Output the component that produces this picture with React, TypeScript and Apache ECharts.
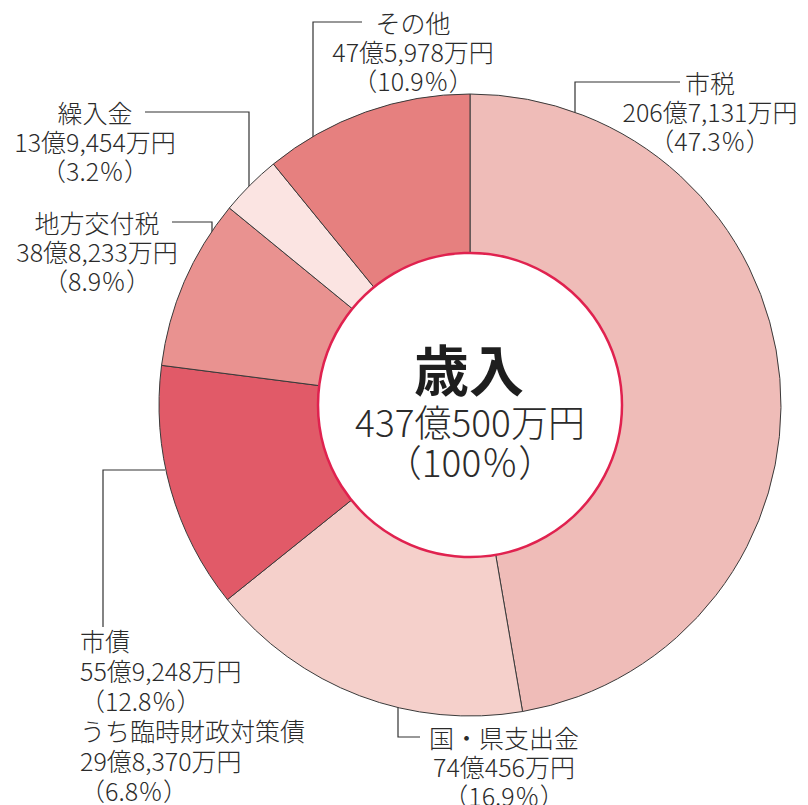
import React, { useEffect, useRef } from 'react';
import * as echarts from 'echarts';

// ---- data (amounts in 万円) ----
const categories: string[] = ['市税', '国・県支出金', '市債', '地方交付税', '繰入金', 'その他'];
const amounts: number[] = [2067131, 740456, 559248, 388233, 139454, 475978];
const subLabel = 'うち臨時財政対策債';
const subAmount = 298370; // part of 市債
const centerTitle = '歳入';

// ---- styles ----
const sliceColors = ['#efbcb8', '#f5d0cb', '#e15a68', '#e99290', '#fbe4e2', '#e6807f'];
const FONT = '"Noto Sans CJK JP", "Noto Sans", sans-serif';
const TEXT = '#2b2b2b';
const CX = 470;
const CY = 405;
const R_IN = 152;
const R_OUT = 311;

// label anchors & leader lines (annotation layout)
const labelLayouts = [
  { x: 710, y: 67.5, align: 'center', pts: [[575, 152], [575, 82], [680, 82]] },
  { x: 504, y: 722.5, align: 'center', pts: [[398, 640], [398, 737], [420, 737]] },
  { x: 80, y: 625, align: 'left', pts: [[165, 470], [103, 470], [103, 627]] },
  { x: 97, y: 207.5, align: 'center', pts: [[212, 312], [212, 222], [172, 222]] },
  { x: 95, y: 97.5, align: 'center', pts: [[249, 200], [249, 112], [145, 112]] },
  { x: 413, y: 7.5, align: 'center', pts: [[313, 155], [313, 22], [362, 22]] },
];

const total = amounts.reduce((a, b) => a + b, 0);
const fmtYen = (v: number) => {
  const oku = Math.floor(v / 10000);
  const man = v % 10000;
  return `${oku}億${man.toLocaleString('en-US')}万円`;
};
const fmtPct = (v: number) => {
  const p = (v / total) * 100;
  return `（${Math.abs(p - 100) < 1e-9 ? '100' : p.toFixed(1)}％）`;
};

export default function App() {
  const ref = useRef<HTMLDivElement>(null);
  useEffect(() => {
    if (!ref.current) return;
    const chart = echarts.init(ref.current, undefined, { renderer: 'svg' });
    const data = categories.map((name, i) => ({
      name,
      value: amounts[i],
      itemStyle: { color: sliceColors[i] },
      label: {
        align: labelLayouts[i].align,
        lineHeight: i === 2 ? 30 : 29,
      },
    }));
    chart.setOption({
      animation: false,
      backgroundColor: '#ffffff',
      series: [
        {
          type: 'pie',
          center: [CX, CY],
          radius: [R_IN, R_OUT],
          startAngle: 90,
          clockwise: true,
          avoidLabelOverlap: false,
          silent: true,
          itemStyle: { borderColor: '#3a3a3a', borderWidth: 1 },
          label: {
            show: true,
            position: 'outside',
            color: TEXT,
            fontFamily: FONT,
            fontWeight: 300,
            fontSize: 25,
            lineHeight: 29,
            formatter: (p: any) => {
              const i = p.dataIndex;
              let s = `${p.name}\n${fmtYen(p.value)}\n${fmtPct(p.value)}`;
              if (i === 2) {
                s += `\n${subLabel}\n${fmtYen(subAmount)}\n${fmtPct(subAmount)}`;
              }
              return s;
            },
          },
          labelLine: {
            show: true,
            smooth: false,
            lineStyle: { color: '#333333', width: 1.2 },
          },
          labelLayout: (params: any) => {
            const l = labelLayouts[params.dataIndex];
            return {
              x: l.x,
              y: l.y,
              align: l.align,
              verticalAlign: 'top',
              labelLinePoints: l.pts,
            };
          },
          data,
        },
      ],
      graphic: [
        {
          type: 'circle',
          z: 100,
          shape: { cx: CX, cy: CY, r: R_IN },
          style: { fill: '#ffffff', stroke: '#e0224f', lineWidth: 2.5 },
        },
        {
          type: 'text',
          z: 101,
          x: CX - 1,
          y: 367,
          style: {
            text: centerTitle,
            fill: '#1e1e1e',
            font: `bold 55px ${FONT}`,
            align: 'center',
            verticalAlign: 'middle',
          },
        },
        {
          type: 'text',
          z: 101,
          x: CX,
          y: 421,
          style: {
            text: fmtYen(total),
            fill: TEXT,
            font: `300 37px ${FONT}`,
            align: 'center',
            verticalAlign: 'middle',
          },
        },
        {
          type: 'text',
          z: 101,
          x: CX,
          y: 461,
          style: {
            text: fmtPct(total),
            fill: TEXT,
            font: `300 37px ${FONT}`,
            align: 'center',
            verticalAlign: 'middle',
          },
        },
      ],
    });
    return () => chart.dispose();
  }, []);
  return (
    <div
      ref={ref}
      style={{ position: 'fixed', left: 0, top: 0, width: 808, height: 805 }}
    />
  );
}
